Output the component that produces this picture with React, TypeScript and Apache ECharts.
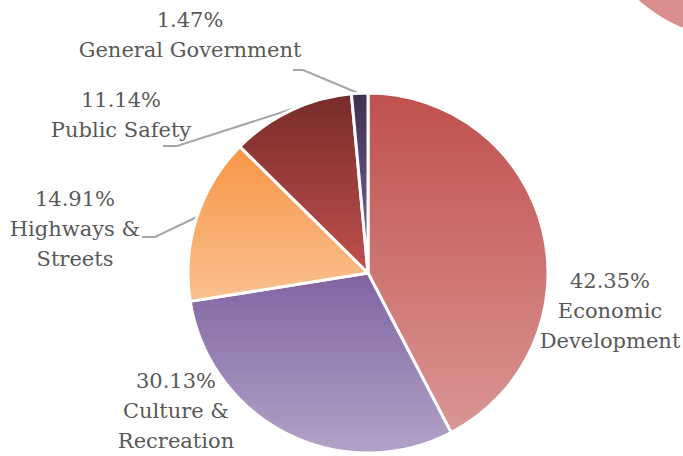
import React, { useEffect, useRef } from 'react';
import * as echarts from 'echarts';

// ---- data ----
const categories = ['Economic\nDevelopment', 'Culture &\nRecreation', 'Highways &\nStreets', 'Public Safety', 'General Government'];
const shares = [42.35, 30.13, 14.91, 11.14, 1.47];

// ---- styles ----
const topColors = ['#C0504D', '#8064A2', '#F79646', '#772C2A', '#3F3151'];
const bottomColors = ['#DA9694', '#B3A2C7', '#FAC090', '#C0504D', '#8064A2'];
const showLeader = [false, false, true, true, true];

// ---- label layout (pixel positions) ----
const labelCenters: number[][] = [[610, 311], [176, 411], [75, 229], [121, 115], [190, 35]];
const leaderPoints: (number[][] | null)[] = [
  null,
  null,
  [[197, 217], [155, 237], [142, 237]],
  [[292, 109], [177, 146], [163, 146]],
  [[358, 93], [303, 70], [293, 70]],
];

const FONT = 'DejaVu Serif';

export default function App() {
  const ref = useRef<HTMLDivElement>(null);
  useEffect(() => {
    if (!ref.current) return;
    const chart = echarts.init(ref.current, null, { renderer: 'svg' });
    const data = categories.map((name, i) => ({
      name,
      value: shares[i],
      itemStyle: {
        color: new echarts.graphic.LinearGradient(0, 0, 0, 1, [
          { offset: 0, color: topColors[i] },
          { offset: 1, color: bottomColors[i] },
        ]),
      },
      labelLine: { show: showLeader[i] },
    }));
    chart.setOption({
      animation: false,
      backgroundColor: '#ffffff',
      textStyle: { fontFamily: FONT },
      graphic: [
        {
          type: 'circle',
          shape: { cx: 740, cy: -112, r: 151 },
          style: { fill: '#D88F8E' },
          silent: true,
          z: -1,
        },
      ],
      series: [
        {
          type: 'pie',
          center: [368, 273],
          radius: 180,
          startAngle: 90,
          clockwise: true,
          avoidLabelOverlap: false,
          itemStyle: { borderColor: '#ffffff', borderWidth: 3 },
          label: {
            show: true,
            position: 'outside',
            formatter: '{c}%\n{b}',
            fontFamily: FONT,
            fontSize: 21,
            lineHeight: 30,
            color: '#595959',
            align: 'center',
          },
          labelLine: {
            show: true,
            lineStyle: { color: '#A6A6A6', width: 2 },
          },
          labelLayout: (params: any) => {
            const i = params.dataIndex;
            const c = labelCenters[i];
            const res: any = {
              x: c[0],
              y: c[1],
              align: 'center',
              verticalAlign: 'middle',
            };
            if (leaderPoints[i]) res.labelLinePoints = leaderPoints[i];
            return res;
          },
          data,
        },
      ],
    });
    return () => chart.dispose();
  }, []);
  return (
    <div
      ref={ref}
      style={{ position: 'absolute', left: 0, top: 0, width: 683, height: 456 }}
    />
  );
}
